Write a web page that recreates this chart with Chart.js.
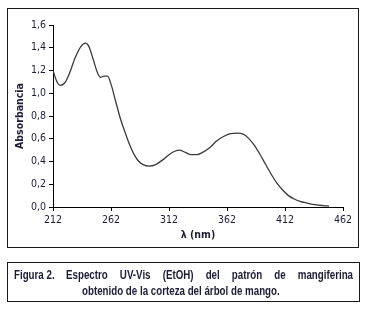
<!DOCTYPE html>
<html>
<head>
<meta charset="utf-8">
<script src="https://cdn.jsdelivr.net/npm/chart.js@4.4.0/dist/chart.umd.min.js"></script>
<style>
  html, body { margin: 0; padding: 0; background: #fff; }
  body { width: 366px; height: 313px; position: relative; overflow: hidden; }
  #chart { position: absolute; left: 0; top: 0; }
  .box { position: absolute; border: 1px solid #1a1a1a; box-sizing: border-box; }
  #chartBox { left: 7px; top: 8px; width: 352px; height: 240px; }
  #captionBox { left: 7px; top: 262px; width: 353px; height: 40px; }
  .cap { position: absolute; font-family: 'Liberation Sans', Arial, sans-serif;
         font-weight: bold; font-size: 12.5px; color: #1c1c36; white-space: nowrap;
         transform: scaleX(0.78); transform-origin: 0 0; }
  #capNum { left: 14px; top: 268px; }
  #cap1 { left: 66px; top: 268px; width: 368px; text-align: justify; text-align-last: justify; }
  #cap2 { left: 82px; top: 284px; }
</style>
</head>
<body>
<div class="box" id="chartBox"></div>
<div class="box" id="captionBox"></div>
<canvas id="chart" width="366" height="313"></canvas>
<div class="cap" id="capNum">Figura 2.</div>
<div class="cap" id="cap1">Espectro UV-Vis (EtOH) del patrón de mangiferina</div>
<div class="cap" id="cap2">obtenido de la corteza del árbol de mango.</div>
<script>
// UV-Vis spectrum
const wavelengths = [212, 215, 218, 222, 226, 231, 236, 240, 243, 246, 250, 253, 256, 259, 262,
    266, 270, 274, 278, 282, 286, 290, 295, 300, 306, 312, 317, 321, 326, 331, 336, 341, 347,
    353, 359, 365, 371, 376, 380, 385, 390, 395, 400, 405, 410, 415, 420, 425, 431, 438, 445, 450];
const absorbance = [1.20, 1.11, 1.07, 1.09, 1.17, 1.31, 1.41, 1.44, 1.41, 1.32, 1.19, 1.14, 1.15, 1.15, 1.08,
    0.93, 0.78, 0.66, 0.55, 0.46, 0.40, 0.37, 0.36, 0.37, 0.41, 0.46, 0.49, 0.50, 0.48, 0.46, 0.46, 0.48, 0.52,
    0.58, 0.62, 0.645, 0.65, 0.64, 0.61, 0.55, 0.47, 0.38, 0.29, 0.21, 0.15, 0.10, 0.07, 0.05, 0.035, 0.02, 0.012, 0.008];

const xTitle = 'λ (nm)';
const yTitle = 'Absorbancia';

const narrow = "'DejaVu Sans Condensed', 'Liberation Sans', sans-serif";
const inkColor = '#1c1c36';

const points = wavelengths.map((w, i) => ({ x: w, y: absorbance[i] }));

const ctx = document.getElementById('chart').getContext('2d');
new Chart(ctx, {
    type: 'line',
    data: {
        datasets: [{
            data: points,
            borderColor: '#3a3a3a',
            borderWidth: 1.3,
            pointRadius: 0,
            fill: false,
            cubicInterpolationMode: 'monotone'
        }]
    },
    options: {
        responsive: false,
        animation: false,
        events: [],
        layout: { padding: { left: 8, top: 25, right: 23, bottom: 66 } },
        plugins: { legend: { display: false }, tooltip: { enabled: false } },
        scales: {
            x: {
                type: 'linear',
                min: 212,
                max: 462,
                afterFit: (scale) => { scale.height = 40; },
                ticks: {
                    stepSize: 50,
                    padding: 3,
                    color: inkColor,
                    font: { family: narrow, size: 10.5 },
                    maxRotation: 0
                },
                grid: { drawOnChartArea: false, drawTicks: true, tickLength: 4, color: '#000' },
                border: { color: '#000', width: 1 },
                title: {
                    display: true,
                    text: xTitle,
                    color: inkColor,
                    font: { family: narrow, size: 10.5, weight: 'bold' },
                    padding: { top: 0, bottom: 5 }
                }
            },
            y: {
                min: 0,
                max: 1.6,
                afterFit: (scale) => { scale.width = 45; },
                ticks: {
                    stepSize: 0.2,
                    padding: 3,
                    color: inkColor,
                    font: { family: narrow, size: 10.5 },
                    callback: (v) => v.toFixed(1).replace('.', ',')
                },
                grid: { drawOnChartArea: false, drawTicks: true, tickLength: 4, color: '#000' },
                border: { color: '#000', width: 1 },
                title: {
                    display: true,
                    text: yTitle,
                    color: inkColor,
                    font: { family: narrow, size: 10.5, weight: 'bold' },
                    padding: { top: 6, bottom: 0 }
                }
            }
        }
    }
});
</script>
</body>
</html>
